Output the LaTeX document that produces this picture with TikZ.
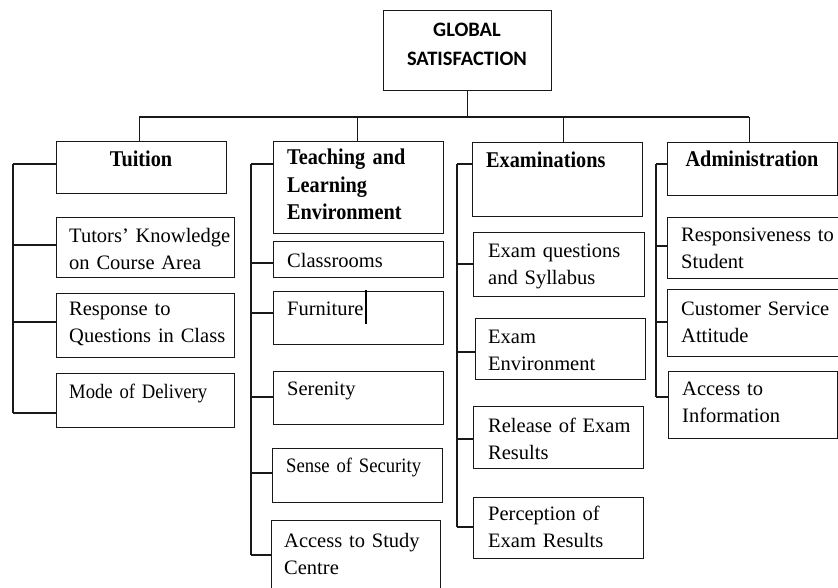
\documentclass[tikz,border=0pt]{standalone}
\usepackage{fontspec}
\setmainfont{Liberation Serif}
\newfontfamily\gsfont{Carlito}
\newfontfamily\headfont{Liberation Serif}[FakeStretch=0.9]
\newfontfamily\condfont{Liberation Serif}[FakeStretch=0.91]
\newcommand\mybox[5]{\node[box,minimum width={#4-#2}, minimum height={#5-#3}] (#1) at (#2,#3) {};}
\begin{document}
\begin{tikzpicture}[x=1pt,y=-1pt,
  box/.style={draw=black!90, rectangle, anchor=north west, inner sep=0pt, line width=1.2pt},
  body/.style={anchor=base west, inner sep=0pt, text width=175pt, align=left, font=\fontsize{20.5}{27}\selectfont},
  condbody/.style={body, font=\condfont\fontsize{20.5}{27}\selectfont},
  head/.style={inner sep=0pt, font=\headfont\bfseries\fontsize{22.5}{27.5}\selectfont},
  headl/.style={head, anchor=base west, text width=170pt, align=left},
  link/.style={draw=black!90, line width=1.2pt}
]
\useasboundingbox (0,0) rectangle (838,588);
\clip (0,0) rectangle (838,588);
% boxes
\mybox{gs}{383}{10}{551}{90}
\mybox{tu}{56}{141}{226}{193}
\mybox{tle}{273}{141}{443}{233}
\mybox{ex}{472}{142}{642}{216}
\mybox{ad}{667}{142}{837}{195}
\mybox{tk}{56}{217}{234}{277}
\mybox{rq}{56}{293}{234}{357}
\mybox{md}{56}{373}{234}{427}
\mybox{cl}{273}{241}{443}{277}
\mybox{fu}{273}{291}{443}{344}
\mybox{se}{273}{371}{443}{424}
\mybox{ss}{272}{448}{442}{502}
\mybox{as}{271}{520}{440}{600}
\mybox{eq}{473}{232}{644}{296}
\mybox{ee}{475}{318}{645}{379}
\mybox{re}{473}{406}{643}{468}
\mybox{pe}{473}{497}{643}{558}
\mybox{rs}{667}{217}{845}{278}
\mybox{cs}{667}{289}{845}{356}
\mybox{ai}{668}{371}{837}{438}
% texts
\node[inner sep=0pt, anchor=base, text width=160pt, align=center, font=\gsfont\bfseries\fontsize{20.5}{29}\selectfont] (gst) at (467,37) {GLOBAL\\SATISFACTION};
\node[head, anchor=base] (tut) at (141,167) {Tuition};
\node[headl] (tlet) at (287,165) {Teaching and\\Learning\\Environment};
\node[headl] (ext) at (486,168) {Examinations};
\node[head, anchor=base] (adt) at (752,167) {Administration};
\node[body] (tkt) at (69,243) {Tutors' Knowledge\\on Course Area};
\node[body] (rqt) at (69,315) {Response to\\Questions in Class};
\node[condbody] (mdt) at (69,398) {Mode of Delivery};
\node[body] (clt) at (287,267) {Classrooms};
\node[body] (fut) at (287,315) {Furniture};
\node[body] (set) at (287,395) {Serenity};
\node[condbody] (sst) at (286,472) {Sense of Security};
\node[body] (ast) at (284,547) {Access to Study\\Centre};
\node[body] (eqt) at (488,258) {Exam questions\\and Syllabus};
\node[body] (eet) at (488,343) {Exam\\Environment};
\node[body] (ret) at (488,432) {Release of Exam\\Results};
\node[body] (pet) at (488,520) {Perception of\\Exam Results};
\node[body] (rst) at (681,241) {Responsiveness to\\Student};
\node[body] (cst) at (681,315) {Customer Service\\Attitude};
\node[body] (ait) at (682,395) {Access to\\Information};
% cursor after Furniture
\coordinate (cur1) at (366,290);
\coordinate (cur2) at (366,324);
\draw[line width=1.6pt] (cur1) -- (cur2);
% top bus
\coordinate (busL) at (139,117);
\coordinate (busR) at (749,117);
\draw[link] (busL) -- (busR);
\draw[link] (gs.south) -- (gs.south |- busL);
\draw[link] ([xshift=-2pt]tu.north) -- ([xshift=-2pt]tu.north |- busL);
\draw[link] ([xshift=-1pt]tle.north) -- ([xshift=-1pt]tle.north |- busL);
\draw[link] ([xshift=6pt]ex.north) -- ([xshift=6pt]ex.north |- busL);
\draw[link] ([xshift=-3pt]ad.north) -- ([xshift=-3pt]ad.north |- busL);
% column brackets
\coordinate (c1t) at (13,164); \coordinate (c1b) at (13,413);
\draw[link] (c1t) -- (c1b);
\foreach \n/\y in {tu/164, tk/245, rq/322, md/413} {
  \coordinate (p) at (13,\y);
  \draw[link] (p) -- (p -| \n.west);
}
\coordinate (c2t) at (251,164); \coordinate (c2b) at (251,555);
\draw[link] (c2t) -- (c2b);
\foreach \n/\y in {tle/164, cl/263, fu/313, se/397, ss/473, as/555} {
  \coordinate (p) at (251,\y);
  \draw[link] (p) -- (p -| \n.west);
}
\coordinate (c3t) at (457,164); \coordinate (c3b) at (457,527);
\draw[link] (c3t) -- (c3b);
\foreach \n/\y in {ex/164, eq/264, ee/352, re/439, pe/527} {
  \coordinate (p) at (457,\y);
  \draw[link] (p) -- (p -| \n.west);
}
\coordinate (c4t) at (656,164); \coordinate (c4b) at (656,397);
\draw[link] (c4t) -- (c4b);
\foreach \n/\y in {ad/164, rs/246, cs/322, ai/397} {
  \coordinate (p) at (656,\y);
  \draw[link] (p) -- (p -| \n.west);
}
\end{tikzpicture}
\end{document}
